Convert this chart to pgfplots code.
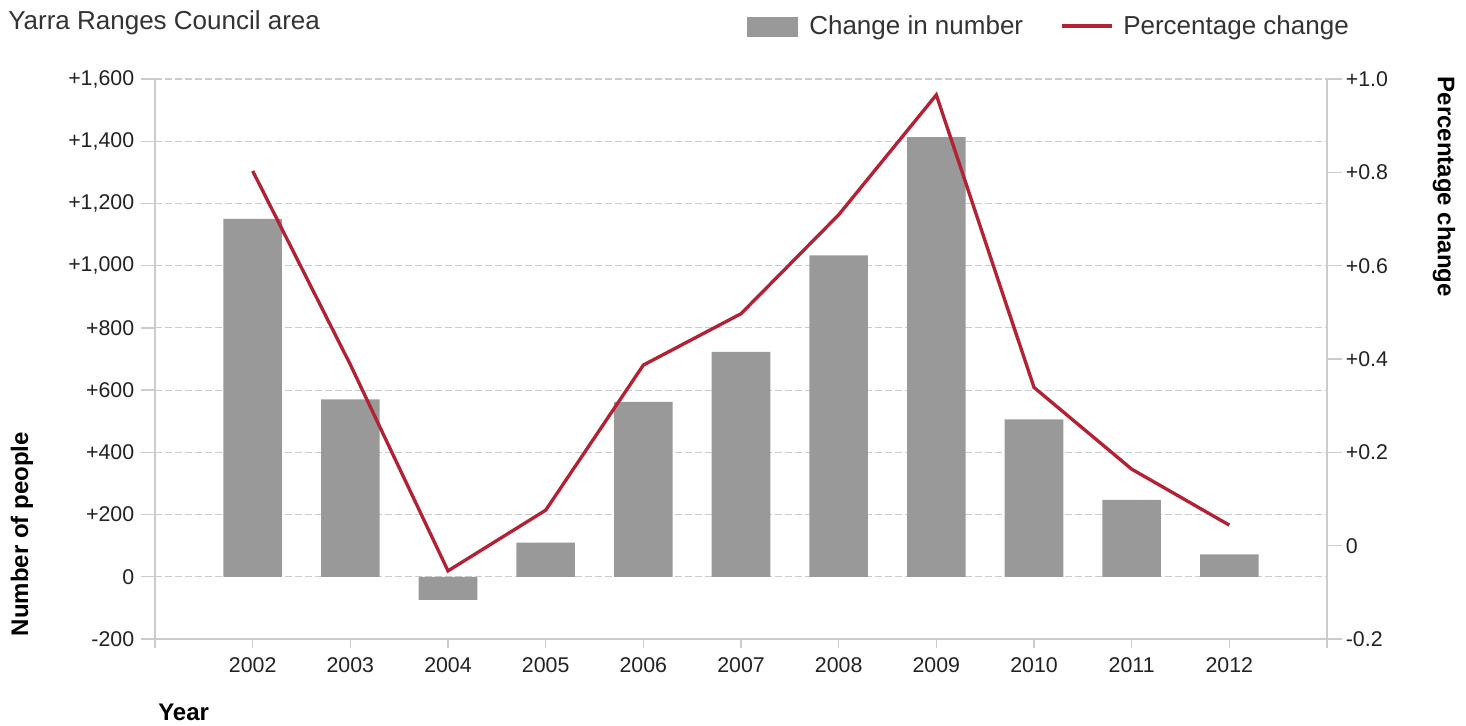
\documentclass[border=0pt]{standalone}
\usepackage{pgfplots}
\pgfplotsset{compat=1.18}
\usepackage{fontspec}
\setmainfont{Liberation Sans}
\definecolor{barc}{RGB}{153,153,153}
\definecolor{linec}{RGB}{178,34,52}
\definecolor{axc}{RGB}{204,204,204}
\definecolor{txt}{RGB}{34,34,34}
\definecolor{ttl}{RGB}{51,51,51}

\pgfplotsset{
  base/.style={
    at={(116.25pt,64.5pt)}, anchor=south west,
    scale only axis, width=879pt, height=420pt,
    xmin=2001, xmax=2013,
    axis line style={axc, line width=1pt},
    tick style={axc, line width=1pt},
    tick align=outside,
    ticklabel style={font=\fontsize{16}{19}\selectfont, text=txt},
  }
}

\begin{document}
\begin{tikzpicture}
\path[use as bounding box] (0,0) rectangle (1099.5pt,543.75pt);

% bars, left axis
\begin{axis}[base,
  ymin=-200, ymax=1600,
  axis y line*=left, axis x line*=bottom,
  xtick=\empty,
  ytick={-200,0,200,400,600,800,1000,1200,1400,1600},
  yticklabels={-200,0,+200,+400,+600,+800,{+1,000},{+1,200},{+1,400},{+1,600}},
  ymajorgrids,
  grid style={axc, line width=0.8pt, dash pattern=on 5.25pt off 2.25pt},
  major tick length=10.5pt,
  yticklabel style={inner sep=0pt, xshift=-5pt},
]
\addplot[ybar, bar width=0.6, fill=barc, draw=none] coordinates {
  (2002,1150) (2003,570) (2004,-74) (2005,110) (2006,562) (2007,723)
  (2008,1033) (2009,1413) (2010,506) (2011,247) (2012,72)
};
\end{axis}

% line, right axis
\begin{axis}[base,
  ymin=-0.2, ymax=1.0,
  axis y line*=right, axis x line=none,
  ytick={-0.2,0,0.2,0.4,0.6,0.8,1.0},
  yticklabels={-0.2,0,+0.2,+0.4,+0.6,+0.8,+1.0},
  major tick length=11pt,
  yticklabel style={anchor=west, inner sep=0pt, xshift=3pt},
]
\addplot[linec, line width=2.5pt, mark=none] coordinates {
  (2002,0.803) (2003,0.388) (2004,-0.054) (2005,0.076) (2006,0.387) (2007,0.497)
  (2008,0.709) (2009,0.966) (2010,0.339) (2011,0.164) (2012,0.044)
};
\end{axis}

% x ticks
\begin{axis}[base,
  ymin=0, ymax=1,
  axis x line*=bottom, axis y line=none,
  xtick={2001,2002,2003,2004,2005,2006,2007,2008,2009,2010,2011,2012,2013},
  xticklabels={{},2002,2003,2004,2005,2006,2007,2008,2009,2010,2011,2012,{}},
  major tick length=6.5pt,
  xticklabel style={inner sep=0pt, yshift=-7pt},
]
\end{axis}

% title
\node[anchor=base west, inner sep=0pt, font=\fontsize{19.5}{23}\selectfont, text=ttl]
  at (6pt,521.25pt) {Yarra Ranges Council area};
% legend
\fill[barc] (560.25pt,516pt) rectangle (598.5pt,531pt);
\node[anchor=base west, inner sep=0pt, font=\fontsize{19.5}{23}\selectfont, text=ttl]
  at (606.75pt,517.5pt) {Change in number};
\draw[linec, line width=2.5pt] (796.5pt,524.25pt) -- (834pt,524.25pt);
\node[anchor=base west, inner sep=0pt, font=\fontsize{19.5}{23}\selectfont, text=ttl]
  at (842.25pt,517.5pt) {Percentage change};
% axis titles
\node[rotate=90, inner sep=0pt, font=\bfseries\fontsize{18}{21}\selectfont]
  at (16.5pt,143.25pt) {Number of people};
\node[rotate=-90, inner sep=0pt, font=\bfseries\fontsize{18}{21}\selectfont]
  at (1083pt,403.5pt) {Percentage change};
\node[anchor=base west, inner sep=0pt, font=\bfseries\fontsize{18}{21}\selectfont]
  at (118.5pt,3.75pt) {Year};
\end{tikzpicture}
\end{document}
